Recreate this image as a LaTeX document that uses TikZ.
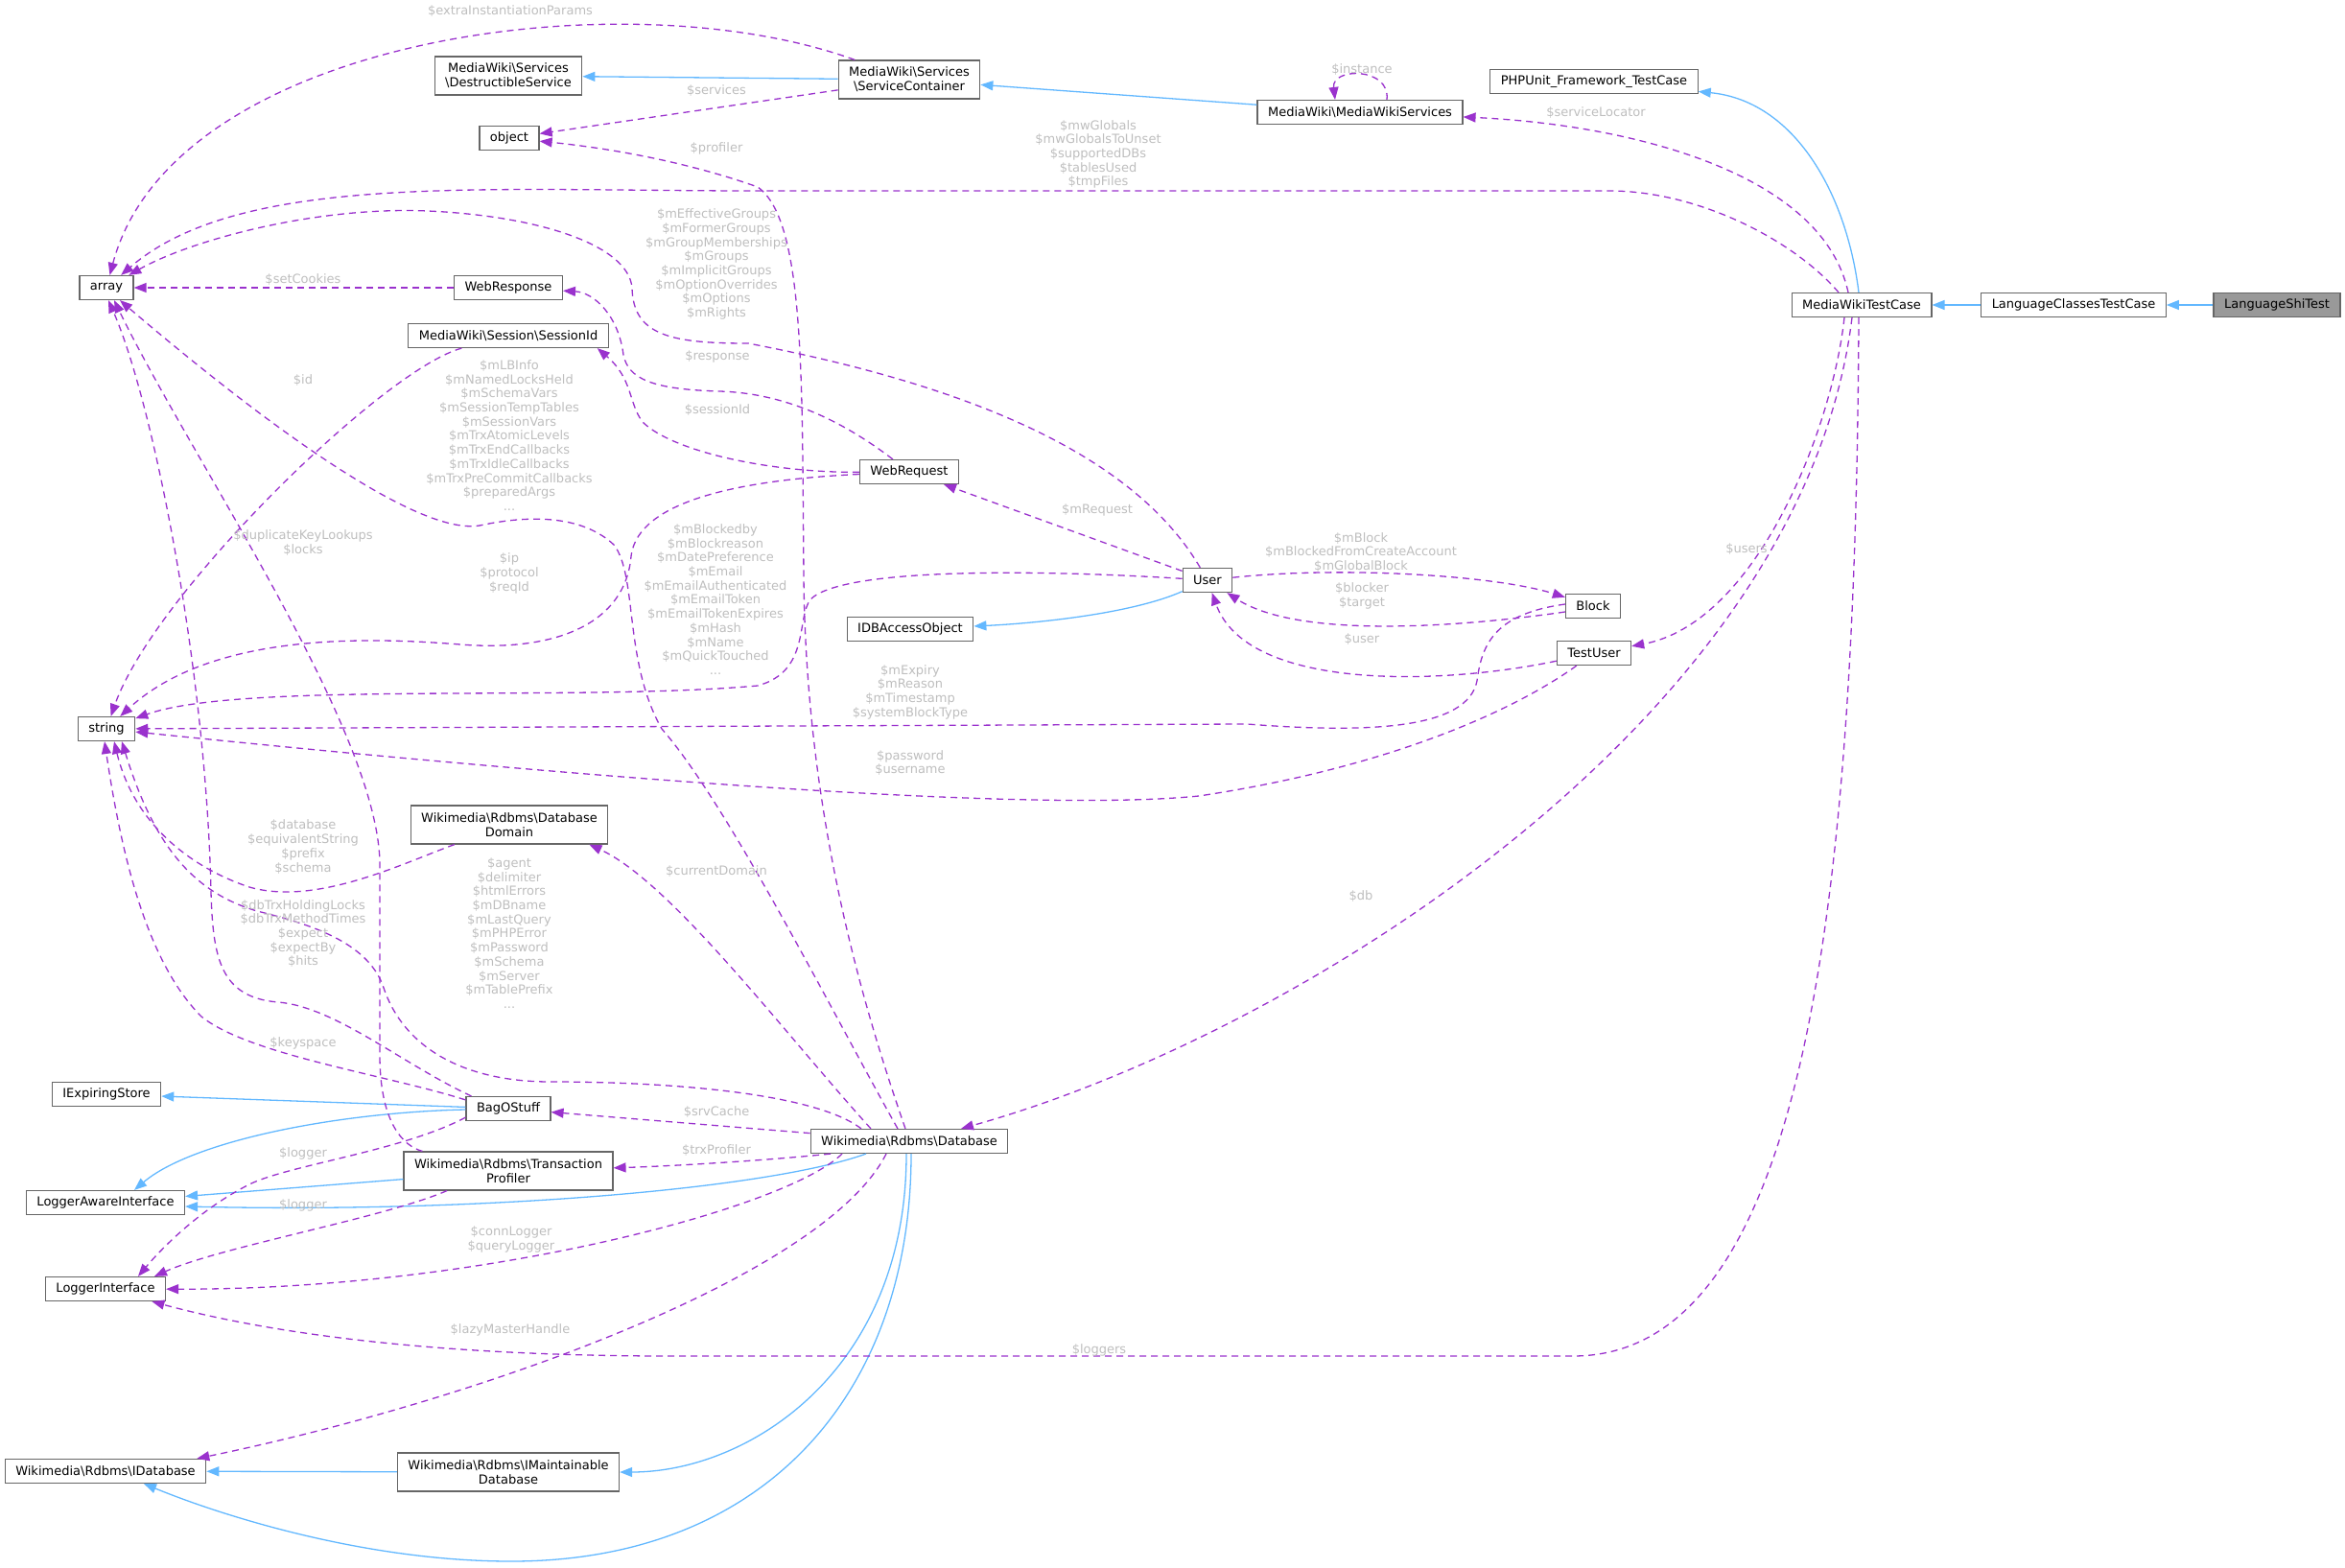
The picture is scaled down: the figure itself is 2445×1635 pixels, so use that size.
\documentclass[tikz,border=0pt]{standalone}
\usepackage{fontspec}
\setmainfont{DejaVu Sans}
\usetikzlibrary{arrows.meta}

\definecolor{cgpurple}{HTML}{9A32CD}
\definecolor{cgblue}{HTML}{63B8FF}
\definecolor{cgborder}{HTML}{666666}
\definecolor{cgtext}{HTML}{BEBEBE}
\definecolor{cgfill}{HTML}{999999}

\tikzset{
  cgnode/.style={draw=cgborder, fill=white, line width=1.2pt, inner xsep=11pt, inner ysep=0pt, minimum height=25pt, align=center},
  cgtwo/.style={cgnode, minimum height=40pt},
  cgbase/.style={cgnode, fill=cgfill},
  cginh/.style={draw=cgblue, line width=1.3pt, -{Triangle[length=13pt,width=10pt]}},
  cguse/.style={draw=cgpurple, line width=1.3pt, dash pattern=on 7pt off 5pt, -{Triangle[length=13pt,width=10pt]}},
  cglabel/.style={text=cgtext, inner sep=0pt, align=center}
}

\begin{document}
\begin{tikzpicture}[x=1pt, y=-1pt, font=\fontsize{13}{14.7}\selectfont]
\useasboundingbox (0,0) rectangle (2445,1635);

\node[cgbase] (lst) at (2374,318) {LanguageShiTest};
\node[cgnode] (lctc) at (2162,318) {LanguageClassesTestCase};
\node[cgnode] (mwtc) at (1941,318) {MediaWikiTestCase};
\node[cgnode] (phpunit) at (1662,85) {PHPUnit\_Framework\_TestCase};
\node[cgnode] (mws) at (1418,117) {MediaWiki\textbackslash{}MediaWikiServices};
\node[cgtwo] (sc) at (948,83) {MediaWiki\textbackslash{}Services\\\textbackslash{}ServiceContainer};
\node[cgtwo] (ds) at (530,79) {MediaWiki\textbackslash{}Services\\\textbackslash{}DestructibleService};
\node[cgnode] (obj) at (531,144) {object};
\node[cgnode] (array) at (111,300) {array};
\node[cgnode] (wresp) at (530,300) {WebResponse};
\node[cgnode] (sessid) at (530,350) {MediaWiki\textbackslash{}Session\textbackslash{}SessionId};
\node[cgnode] (wreq) at (948,492) {WebRequest};
\node[cgnode] (user) at (1259,605) {User};
\node[cgnode] (idbao) at (949,656) {IDBAccessObject};
\node[cgnode] (block) at (1661,632) {Block};
\node[cgnode] (tuser) at (1662,681) {TestUser};
\node[cgnode] (string) at (111,760) {string};
\node[cgtwo] (dd) at (531,860) {Wikimedia\textbackslash{}Rdbms\textbackslash{}Database\\Domain};
\node[cgnode] (ies) at (111,1141) {IExpiringStore};
\node[cgnode] (bos) at (530,1156) {BagOStuff};
\node[cgnode] (db) at (948,1190) {Wikimedia\textbackslash{}Rdbms\textbackslash{}Database};
\node[cgtwo] (tp) at (530,1221) {Wikimedia\textbackslash{}Rdbms\textbackslash{}Transaction\\Profiler};
\node[cgnode] (lai) at (110,1254) {LoggerAwareInterface};
\node[cgnode] (lint) at (110,1344) {LoggerInterface};
\node[cgnode] (idb) at (110,1534) {Wikimedia\textbackslash{}Rdbms\textbackslash{}IDatabase};
\node[cgtwo] (imd) at (530,1535) {Wikimedia\textbackslash{}Rdbms\textbackslash{}IMaintainable\\Database};

% inheritance
\draw[cginh] (lst) -- (lctc);
\draw[cginh] (lctc) -- (mwtc);
\draw[cginh] ([xshift=-3pt]mwtc.north) .. controls (1925,200) and (1870,105) .. (phpunit);
\draw[cginh] (mws) -- (sc);
\draw[cginh] (sc) -- (ds);
\draw[cginh] (user) .. controls (1180,640) and (1080,650) .. (idbao);
\draw[cginh] (bos) -- (ies);
\draw[cginh] (bos) .. controls (350,1160) and (200,1190) .. ([xshift=30pt]lai.north);
\draw[cginh] (tp) -- (lai);
\draw[cginh] ([xshift=-45pt]db.south) .. controls (800,1240) and (500,1265) .. ([yshift=-4pt]lai.east);
\draw[cginh] (imd) -- (idb);
\draw[cginh] ([xshift=-3pt]db.south) .. controls (945,1430) and (780,1535) .. (imd.east);
\draw[cginh] ([xshift=2pt]db.south) .. controls (950,1450) and (800,1628) .. (533,1628) .. controls (380,1628) and (230,1580) .. ([xshift=40pt]idb.south);

% members
\draw[cguse] (sc) .. controls (650,-25) and (180,40) .. (array);
\draw[cguse] (sc) -- (obj);
\draw[cguse] ([xshift=28pt]mws.north) .. controls +(4,-34) and +(-4,-34) .. ([xshift=-26pt]mws.north);
\draw[cguse] ([xshift=-14pt]mwtc.north) .. controls (1900,180) and (1700,130) .. (mws);
\draw[cguse] ([xshift=-24pt]mwtc.north) .. controls (1870,250) and (1770,199) .. (1678,199) -- (790,199) .. controls (500,199) and (250,180) .. (array);
\draw[cguse] (user) .. controls (1180,470) and (1000,400) .. (780,358) .. controls (700,358) and (660,350) .. (659,300) .. controls (655,255) and (560,225) .. (446,220) .. controls (330,215) and (200,250) .. (array);
\draw[cguse] (wresp) -- (array);
\draw[cguse] (user) -- (wreq);
\draw[cguse] (wreq) .. controls (880,440) and (820,410) .. (750,408) .. controls (680,406) and (655,395) .. (650,370) .. controls (645,330) and (620,305) .. (wresp);
\draw[cguse] (wreq) .. controls (800,493) and (700,470) .. (670,440) .. controls (655,420) and (660,395) .. ([xshift=-12pt]sessid.south east);
\draw[cguse] (sessid) .. controls (400,385) and (160,620) .. (string);
\draw[cguse] ([xshift=-12pt]db.north) .. controls (870,1060) and (760,840) .. (690,760) .. controls (650,690) and (665,600) .. (640,568) .. controls (610,540) and (560,535) .. (500,548) .. controls (430,560) and (250,420) .. ([xshift=14pt]array.south);
\draw[cguse] (wreq) .. controls (780,500) and (665,520) .. (658,580) .. controls (652,650) and (580,680) .. (480,672) .. controls (380,664) and (220,660) .. (string);
\draw[cguse] (user) .. controls (1100,595) and (880,590) .. (845,625) .. controls (830,645) and (845,700) .. (790,715) .. controls (600,732) and (250,710) .. (string);
\draw[cguse] (user) .. controls (1400,590) and (1560,600) .. (block);
\draw[cguse] ([yshift=-6pt]block.west) .. controls (1550,650) and (1360,670) .. (user);
\draw[cguse] (tuser) .. controls (1500,715) and (1300,720) .. (user);
\draw[cguse] ([xshift=-18pt]mwtc.south) .. controls (1910,450) and (1830,650) .. (tuser);
\draw[cguse] ([yshift=2pt]block.west) .. controls (1560,640) and (1545,670) .. (1540,710) .. controls (1530,760) and (1430,765) .. (1300,755) -- (string);
\draw[cguse] (tuser) .. controls (1580,740) and (1450,800) .. (1250,830) .. controls (1050,850) and (500,800) .. (string);
\draw[cguse] ([xshift=-4pt]db.north) .. controls (900,1050) and (840,850) .. (838,600) .. controls (836,400) and (840,230) .. (790,195) .. controls (720,170) and (640,155) .. (obj);
\draw[cguse] ([xshift=6pt]bos.north west) .. controls (420,1110) and (350,1050) .. (290,1045) .. controls (230,1040) and (222,1000) .. (220,930) .. controls (215,700) and (160,420) .. ([xshift=2pt]array.south);
\draw[cguse] ([xshift=20pt]tp.north west) .. controls (420,1195) and (396,1170) .. (396,1100) -- (396,900) .. controls (394,760) and (200,480) .. ([xshift=8pt]array.south);
\draw[cguse] ([yshift=-4pt]bos.north west) .. controls (400,1120) and (260,1100) .. (210,1060) .. controls (150,1000) and (125,880) .. ([xshift=-2pt]string.south);
\draw[cguse] (dd) .. controls (420,900) and (330,945) .. (260,925) .. controls (200,905) and (140,860) .. ([xshift=8pt]string.south);
\draw[cguse] ([xshift=-50pt]db.north) .. controls (850,1140) and (700,1128) .. (574,1128) .. controls (480,1128) and (420,1090) .. (400,1030) .. controls (385,985) and (330,965) .. (268,950) .. controls (200,930) and (160,880) .. ([xshift=16pt]string.south);
\draw[cguse] ([xshift=-40pt]db.north) .. controls (820,1080) and (700,920) .. ([xshift=-20pt]dd.south east);
\draw[cguse] (db) -- (bos);
\draw[cguse] ([xshift=-82pt]db.south) .. controls (800,1210) and (700,1216) .. (tp);
\draw[cguse] ([yshift=4pt]bos.south west) .. controls (420,1200) and (300,1215) .. (260,1235) .. controls (210,1260) and (170,1300) .. ([xshift=34pt]lint.north);
\draw[cguse] ([xshift=-64pt]tp.south) .. controls (400,1270) and (230,1300) .. ([xshift=51pt]lint.north);
\draw[cguse] ([xshift=-70pt]db.south) .. controls (820,1260) and (500,1345) .. (lint);
\draw[cguse] ([xshift=-3pt]mwtc.south) .. controls (1935,950) and (1880,1414) .. (1640,1414) -- (700,1414) .. controls (450,1414) and (280,1390) .. (lint);
\draw[cguse] ([xshift=-24pt]db.south) .. controls (860,1330) and (500,1460) .. ([xshift=-10pt]idb.north east);
\draw[cguse] ([xshift=-10pt]mwtc.south) .. controls (1880,750) and (1350,1080) .. ([xshift=54pt]db.north);

% labels
\node[cglabel] (lExtra) at (532,12) {\$extraInstantiationParams};
\node[cglabel] (lServices) at (747,95) {\$services};
\node[cglabel] (lProfiler) at (747,155) {\$profiler};
\node[cglabel] (lInstance) at (1420,73) {\$instance};
\node[cglabel] (lLocator) at (1664,118) {\$serviceLocator};
\node[cglabel] (lGlobals) at (1145,161) {\$mwGlobals\\\$mwGlobalsToUnset\\\$supportedDBs\\\$tablesUsed\\\$tmpFiles};
\node[cglabel] (lCookies) at (316,292) {\$setCookies};
\node[cglabel] (lGroups) at (747,275.5) {\$mEffectiveGroups\\\$mFormerGroups\\\$mGroupMemberships\\\$mGroups\\\$mImplicitGroups\\\$mOptionOverrides\\\$mOptions\\\$mRights};
\node[cglabel] (lResponse) at (748,372) {\$response};
\node[cglabel] (lId) at (316,397) {\$id};
\node[cglabel] (lSession) at (748,428) {\$sessionId};
\node[cglabel] (lLBInfo) at (531,454) {\$mLBInfo\\\$mNamedLocksHeld\\\$mSchemaVars\\\$mSessionTempTables\\\$mSessionVars\\\$mTrxAtomicLevels\\\$mTrxEndCallbacks\\\$mTrxIdleCallbacks\\\$mTrxPreCommitCallbacks\\\$preparedArgs\\...};
\node[cglabel] (lRequest) at (1144,532) {\$mRequest};
\node[cglabel] (lLookups) at (316,566) {\$duplicateKeyLookups\\\$locks};
\node[cglabel] (lIp) at (531,598) {\$ip\\\$protocol\\\$reqId};
\node[cglabel] (lBlockedby) at (746,625) {\$mBlockedby\\\$mBlockreason\\\$mDatePreference\\\$mEmail\\\$mEmailAuthenticated\\\$mEmailToken\\\$mEmailTokenExpires\\\$mHash\\\$mName\\\$mQuickTouched\\...};
\node[cglabel] (lBlock) at (1419,576) {\$mBlock\\\$mBlockedFromCreateAccount\\\$mGlobalBlock};
\node[cglabel] (lBlocker) at (1420,621.5) {\$blocker\\\$target};
\node[cglabel] (lUser) at (1420,667) {\$user};
\node[cglabel] (lUsers) at (1821,573) {\$users};
\node[cglabel] (lExpiry) at (949,721.5) {\$mExpiry\\\$mReason\\\$mTimestamp\\\$systemBlockType};
\node[cglabel] (lPassword) at (949,795.5) {\$password\\\$username};
\node[cglabel] (lDatabase) at (316,883) {\$database\\\$equivalentString\\\$prefix\\\$schema};
\node[cglabel] (lDomain) at (747,909) {\$currentDomain};
\node[cglabel] (lDb) at (1419,935) {\$db};
\node[cglabel] (lTrx) at (316,973.5) {\$dbTrxHoldingLocks\\\$dbTrxMethodTimes\\\$expect\\\$expectBy\\\$hits};
\node[cglabel] (lAgent) at (531,973) {\$agent\\\$delimiter\\\$htmlErrors\\\$mDBname\\\$mLastQuery\\\$mPHPError\\\$mPassword\\\$mSchema\\\$mServer\\\$mTablePrefix\\...};
\node[cglabel] (lKeyspace) at (316,1088) {\$keyspace};
\node[cglabel] (lSrvCache) at (747,1160) {\$srvCache};
\node[cglabel] (lTrxProfiler) at (747,1200) {\$trxProfiler};
\node[cglabel] (lLoggerA) at (316,1203) {\$logger};
\node[cglabel] (lLoggerB) at (316,1257) {\$logger};
\node[cglabel] (lConn) at (533,1292.5) {\$connLogger\\\$queryLogger};
\node[cglabel] (lLazy) at (532,1387) {\$lazyMasterHandle};
\node[cglabel] (lLoggers) at (1146,1408) {\$loggers};
\end{tikzpicture}
\end{document}
